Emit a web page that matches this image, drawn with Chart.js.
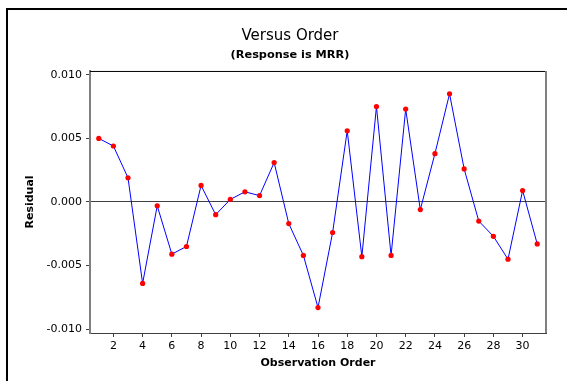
<!DOCTYPE html>
<html>
<head>
<meta charset="utf-8">
<script src="https://cdn.jsdelivr.net/npm/chart.js@4"></script>
<style>
  html, body { margin: 0; padding: 0; background: #fff; overflow: hidden; }
  #frame { position: absolute; left: 6px; top: 8px; width: 640px; height: 420px; border: 2px solid #000; box-sizing: border-box; }
  #wrap { position: absolute; left: 0; top: 0; width: 567px; height: 381px; }
</style>
</head>
<body>
<div id="frame"></div>
<div id="wrap"><canvas id="c" width="567" height="381"></canvas></div>
<script>
const observationOrder = [1,2,3,4,5,6,7,8,9,10,11,12,13,14,15,16,17,18,19,20,21,22,23,24,25,26,27,28,29,30,31];
const residuals = [0.0050, 0.0044, 0.0019, -0.0064, -0.0003, -0.0041, -0.0035, 0.0013, -0.0010, 0.0002,
                   0.0008, 0.0005, 0.0031, -0.0017, -0.0042, -0.0083, -0.0024, 0.0056, -0.0043, 0.0075,
                   -0.0042, 0.0073, -0.0006, 0.0038, 0.0085, 0.0026, -0.0015, -0.0027, -0.0045, 0.0009, -0.0033];
const xTicks = [2,4,6,8,10,12,14,16,18,20,22,24,26,28,30];
const yTicks = [-0.010, -0.005, 0.000, 0.005, 0.010];
const referenceValue = 0;

const points = observationOrder.map((o, i) => ({ x: o, y: residuals[i] }));
const FONT = "'DejaVu Sans', Verdana, sans-serif";

const boxPlugin = {
  id: 'plotBox',
  afterDraw(chart) {
    const a = chart.chartArea, ctx = chart.ctx;
    ctx.save();
    ctx.lineWidth = 1;
    ctx.strokeStyle = '#000';
    ctx.beginPath(); ctx.moveTo(a.left, a.top + 0.5); ctx.lineTo(a.right, a.top + 0.5); ctx.stroke();
    ctx.strokeStyle = '#808080';
    ctx.lineWidth = 2;
    ctx.beginPath(); ctx.moveTo(a.right, a.top); ctx.lineTo(a.right, a.bottom); ctx.stroke();
    ctx.restore();
  }
};

new Chart(document.getElementById('c'), {
  type: 'scatter',
  data: {
    datasets: [{
      data: points,
      showLine: true,
      borderColor: '#0000ff',
      borderWidth: 1,
      pointRadius: 2.6,
      pointBackgroundColor: '#ff0000',
      pointBorderColor: '#ff0000',
      pointBorderWidth: 0,
      pointHoverRadius: 2.6,
      tension: 0
    }]
  },
  options: {
    responsive: false,
    animation: false,
    events: [],
    layout: { padding: { left: 34, right: 21, top: 0, bottom: 0 } },
    plugins: {
      legend: { display: false },
      tooltip: { enabled: false },
      title: {
        display: true,
        text: 'Versus Order',
        color: '#000',
        font: { family: FONT, size: 15, weight: 'normal', lineHeight: 1.2 },
        padding: { top: 27, bottom: 0 }
      },
      subtitle: {
        display: true,
        text: '(Response is MRR)',
        color: '#000',
        font: { family: FONT, size: 11.3, weight: 'bold', lineHeight: 1.2 },
        padding: { top: 3, bottom: 9.4 }
      }
    },
    scales: {
      x: {
        type: 'linear',
        position: 'bottom',
        min: 0.4,
        max: 31.6,
        afterBuildTicks: (s) => { s.ticks = xTicks.map(v => ({ value: v })); },
        afterFit: (s) => { s.height = 48; },
        ticks: {
          color: '#000',
          font: { family: FONT, size: 11 },
          padding: 3,
          maxRotation: 0,
          autoSkip: false,
          callback: (v) => String(v)
        },
        grid: { drawOnChartArea: false, drawTicks: true, tickLength: 4, color: '#404040', tickColor: '#404040' },
        border: { display: true, color: '#404040', width: 1 },
        title: {
          display: true,
          text: 'Observation Order',
          color: '#000',
          font: { family: FONT, size: 11, weight: 'bold', lineHeight: 1.2 },
          padding: { top: 0, bottom: 11 }
        }
      },
      y: {
        type: 'linear',
        position: 'left',
        min: -0.0103,
        max: 0.0103,
        afterBuildTicks: (s) => { s.ticks = yTicks.map(v => ({ value: v })); },
        afterFit: (s) => { s.width = 56; },
        ticks: {
          color: '#000',
          font: { family: FONT, size: 11 },
          padding: 4,
          autoSkip: false,
          callback: (v) => Number(v).toFixed(3)
        },
        grid: {
          drawOnChartArea: true,
          drawTicks: true,
          tickLength: 4,
          tickColor: '#404040',
          color: (ctx) => (ctx.tick && ctx.tick.value === referenceValue) ? '#404040' : 'rgba(0,0,0,0)'
        },
        border: { display: true, color: '#808080', width: 2 },
        title: {
          display: true,
          text: 'Residual',
          color: '#000',
          font: { family: FONT, size: 11, weight: 'bold', lineHeight: 1.2 },
          padding: { top: -10.6, bottom: 0 }
        }
      }
    }
  },
  plugins: [boxPlugin]
});
</script>
</body>
</html>
